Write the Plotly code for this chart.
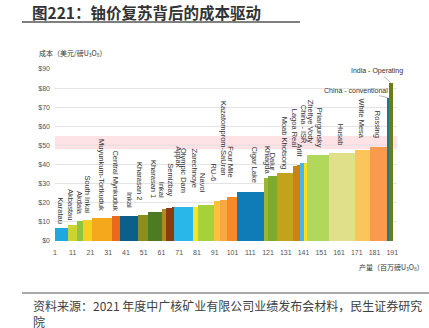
import plotly.graph_objects as go

# ---------------- data ----------------
names = ["Karatau", "Akbastau", "Akdala", "South Inkai", "Muyunkum-Tortkuduk",
         "Central Mynkuduk", "Inkai", "Kharasan 2", "Kharasan 1", "Inkai",
         "Semizbay", "Appak", "Olympic Dam", "Zarechnoye", "Navoi", "RU-6",
         "Kazatomprom-SaUran", "Four Mile", "Cigar Lake", "Khiagda", "Dalur",
         "Moab Khotsong", "Lagoa Real", "Arlit", "China - ISR", "Zheltye Vody",
         "Priargunsky", "Husab", "White Mesa", "Rossing", "China - conventional",
         "India - Operating"]
production = [7.3, 5.1, 3.4, 5.1, 11.3, 4.5, 10.1, 5.6, 7.9, 2.3,
              3.4, 1.1, 10.7, 2.8, 9.0, 3.4, 3.9, 5.6, 15.2, 2.3, 5.1,
              9.0, 2.0, 2.0, 2.3, 1.7, 12.4, 14.6, 8.5, 9.6, 1.1, 2.3]
cost = [7.0, 8.5, 10.5, 11.0, 12.0, 13.0, 13.3, 13.6, 15.0, 16.5,
        17.5, 18.0, 18.0, 18.0, 19.0, 21.0, 21.5, 23.0, 25.6, 33.0, 34.0,
        35.6, 39.0, 40.0, 41.0, 41.0, 45.0, 46.0, 47.6, 49.0, 75.0, 82.7]
x_ticks = [1, 11, 21, 31, 41, 51, 61, 71, 81, 91, 101, 111, 121, 131, 141,
           151, 161, 171, 181, 191]
y_ticks = [0, 10, 20, 30, 40, 50, 60, 70, 80, 90]
y_ticktext = ["$" + str(v) for v in y_ticks]
band_low, band_high, band_line = 48, 55, 50

# ---------------- styles ----------------
colors = ["#1fa8e0", "#c9d531", "#8cc63e", "#f6d020", "#f6a81c", "#ea6a1d",
          "#0b5f8a", "#8b8d1f", "#4c7b23", "#b08a1c", "#8a3b10", "#8a3b10",
          "#29b6e8", "#f3e523", "#a5d13b", "#fbc13c", "#f9a742", "#f58b26",
          "#0f7bb7", "#9cb535", "#7eab2b", "#c3a31c", "#c98313", "#c98313",
          "#45b6e8", "#f9e01d", "#b0d85a", "#e0e08a", "#fbc55a", "#f99a4d",
          "#1b7a8c", "#6b7d1a"]
# label bottom position ($) and horizontal shift (px)
label_base = [7.8, 9.9, 12.5, 13.6, 14.6, 14.6, 16.2, 20.4, 21.5, 21.5,
              22.5, 37, 24, 26.7, 24, 30, 33, 32, 29.3, 34, 36,
              36.5, 47.6, 42.4, 50, 50, 47.6, 48.7, 52.8, 52.8, None, None]
label_dx = [-1, -2, 0, 0, 0, -1, 1, -3, -2, -3,
            1, 6, 0, -2, -3, -4, 0, -1, 5, 2, 0,
            -1, 0, 1, 1, 5, 2, -2, -1, -1, 0, 0]

PL, PR, PT, PB = 55, 397, 69, 241
W, H = 429, 328
x0 = 1.0
x1 = x0 + (PR - PL) / 1.775

lefts, centers = [], []
acc = x0
for w in production:
    lefts.append(acc)
    centers.append(acc + w / 2)
    acc += w

def px_x(px):
    return (px - PL) / (PR - PL)

def px_y(py):
    return (PB - py) / (PB - PT)

fig = go.Figure()
fig.add_trace(go.Bar(x=centers, y=cost, width=production,
                     marker=dict(color=colors, line=dict(width=0)),
                     hoverinfo="skip"))

shapes = [
    dict(type="rect", xref="paper", yref="y", x0=0, x1=1, y0=band_low, y1=band_high,
         fillcolor="rgba(250,190,200,0.45)", line=dict(width=0), layer="below"),
    dict(type="line", xref="paper", yref="y", x0=0, x1=1, y0=band_line, y1=band_line,
         line=dict(color="rgba(235,90,110,0.7)", width=0.8), layer="below"),
    dict(type="line", xref="paper", yref="paper", x0=px_x(22), x1=px_x(300),
         y0=px_y(22), y1=px_y(22), line=dict(color="#555555", width=1.5)),
    dict(type="line", xref="paper", yref="paper", x0=px_x(22), x1=px_x(429),
         y0=px_y(293), y1=px_y(293), line=dict(color="#555555", width=1)),
]

annotations = []
for i, nm in enumerate(names):
    if label_base[i] is None:
        continue
    annotations.append(dict(x=centers[i], y=label_base[i], xref="x", yref="y",
                            text=nm, textangle=90, showarrow=False,
                            xanchor="center", yanchor="bottom", xshift=label_dx[i],
                            font=dict(size=7.5, color="#333333", family="Liberation Sans")))

annotations.append(dict(x=centers[-1], y=cost[-1], xref="x", yref="y",
                        text="India - Operating", showarrow=True, arrowhead=0,
                        arrowwidth=0.7, arrowcolor="#999999", ax=-14, ay=-12,
                        font=dict(size=7, color="#333333", family="Liberation Sans")))
annotations.append(dict(x=centers[-2], y=cost[-2], xref="x", yref="y",
                        text="China - conventional", showarrow=True, arrowhead=0,
                        arrowwidth=0.7, arrowcolor="#999999", ax=-32, ay=-7,
                        font=dict(size=7, color="#333333", family="Liberation Sans")))

annotations += [
    dict(x=px_x(30), y=px_y(12), xref="paper", yref="paper", xanchor="left",
         yanchor="middle", showarrow=False,
         text="<b>图221：铀价复苏背后的成本驱动</b>",
         font=dict(size=15.5, color="#333333", family="Noto Sans CJK SC")),
    dict(x=px_x(37), y=px_y(53), xref="paper", yref="paper", xanchor="left",
         yanchor="middle", showarrow=False,
         text="成本（美元/磅U<sub>3</sub>O<sub>8</sub>）",
         font=dict(size=7, color="#333333", family="Noto Sans CJK SC")),
    dict(x=px_x(357), y=px_y(267), xref="paper", yref="paper", xanchor="left",
         yanchor="middle", showarrow=False,
         text="产量（百万磅U<sub>3</sub>O<sub>8</sub>）",
         font=dict(size=7, color="#333333", family="Noto Sans CJK SC")),
    dict(x=px_x(31), y=px_y(305), xref="paper", yref="paper", xanchor="left",
         yanchor="middle", showarrow=False,
         text="资料来源：2021 年度中广核矿业有限公司业绩发布会材料，民生证券研究",
         font=dict(size=12, color="#404040", family="Noto Sans CJK SC")),
    dict(x=px_x(31), y=px_y(321), xref="paper", yref="paper", xanchor="left",
         yanchor="middle", showarrow=False, text="院",
         font=dict(size=12, color="#404040", family="Noto Sans CJK SC")),
]

fig.update_layout(
    width=W, height=H, margin=dict(l=PL, r=W - PR, t=PT, b=H - PB, pad=0),
    paper_bgcolor="white", plot_bgcolor="white", showlegend=False,
    bargap=0, shapes=shapes, annotations=annotations,
    xaxis=dict(range=[x0, x1], tickvals=x_ticks, showgrid=False, zeroline=False,
               ticks="", ticklabelstandoff=6,
               tickfont=dict(size=7, color="#555555", family="Liberation Sans"),
               showline=False, fixedrange=True),
    yaxis=dict(range=[0, 90], tickvals=y_ticks, ticktext=y_ticktext,
               showgrid=True, gridcolor="#e4e4e4", gridwidth=0.8, zeroline=False,
               ticks="", ticklabelstandoff=4,
               tickfont=dict(size=7, color="#555555", family="Liberation Sans"),
               fixedrange=True),
)

fig.write_html("out.html")
